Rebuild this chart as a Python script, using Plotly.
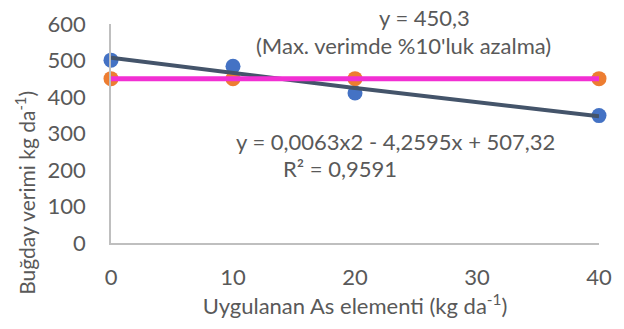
import numpy as np
import plotly.graph_objects as go

x_doses = [0, 10, 20, 40]
yield_obs = [501, 484, 411, 349]
yield_limit = [450.3, 450.3, 450.3, 450.3]
poly_coef = [0.0063, -4.2595, 507.32]
limit_value = 450.3

x_ticks = [0, 10, 20, 30, 40]
y_ticks = [0, 100, 200, 300, 400, 500, 600]

FONT = "Lato"
GRAY = "#595959"

xs = np.linspace(min(x_doses), max(x_doses), 100)
ys = np.polyval(poly_coef, xs)

fig = go.Figure()
fig.add_trace(go.Scatter(x=x_doses, y=yield_obs, mode="markers",
                         marker=dict(size=15, color="#4472C4"), cliponaxis=False, showlegend=False))
fig.add_trace(go.Scatter(x=x_doses, y=yield_limit, mode="markers",
                         marker=dict(size=15, color="#ED7D31"), cliponaxis=False, showlegend=False))
fig.add_trace(go.Scatter(x=xs, y=ys, mode="lines",
                         line=dict(color="#44546A", width=4), cliponaxis=False, showlegend=False))
fig.add_trace(go.Scatter(x=[min(x_doses), max(x_doses)], y=[limit_value, limit_value], mode="lines",
                         line=dict(color="#F22FD3", width=5), cliponaxis=False, showlegend=False))

annots = [
    dict(x=0.643, y=1.03, text="y = 450,3"),
    dict(x=0.60, y=0.90, text="(Max. verimde %10'luk azalma)"),
    dict(x=0.583, y=0.465, text="y = 0,0063x2 - 4,2595x + 507,32"),
    dict(x=0.47, y=0.34, text="R² = 0,9591"),
]
for a in annots:
    fig.add_annotation(x=a["x"], y=a["y"], xref="paper", yref="paper", text=a["text"],
                       showarrow=False, font=dict(family=FONT, size=22, color=GRAY),
                       xanchor="center", yanchor="middle")

# y-axis title (placed lower than the axis centre, as in the reference)
fig.add_annotation(x=-0.176, y=0.23, xref="paper", yref="paper",
                   text="Buğday verimi kg da<sup>-1</sup>)", textangle=-90,
                   showarrow=False, font=dict(family=FONT, size=21, color=GRAY),
                   xanchor="center", yanchor="middle")

fig.update_layout(
    width=624, height=329,
    margin=dict(l=111, r=25, t=24, b=86),
    paper_bgcolor="white", plot_bgcolor="white",
    font=dict(family=FONT, size=22, color=GRAY),
    xaxis=dict(range=[0, 40], tickvals=x_ticks, showgrid=False, zeroline=False,
               showline=True, linecolor="#BFBFBF", linewidth=1.5, automargin=False,
               ticks="outside", ticklen=14, tickcolor="rgba(0,0,0,0)",
               tickfont=dict(family=FONT, size=22, color=GRAY),
               title=dict(text="Uygulanan As elementi (kg da<sup>-1</sup>)",
                          font=dict(family=FONT, size=22, color=GRAY), standoff=4)),
    yaxis=dict(range=[0, 600], tickvals=y_ticks, showgrid=False, zeroline=False,
               showline=True, linecolor="#BFBFBF", linewidth=1.5, automargin=False,
               ticks="outside", ticklen=19, tickcolor="rgba(0,0,0,0)",
               tickfont=dict(family=FONT, size=22, color=GRAY)),
)
fig.write_html("out.html", config={"displayModeBar": False},
               post_script="document.body.style.margin='0';")
